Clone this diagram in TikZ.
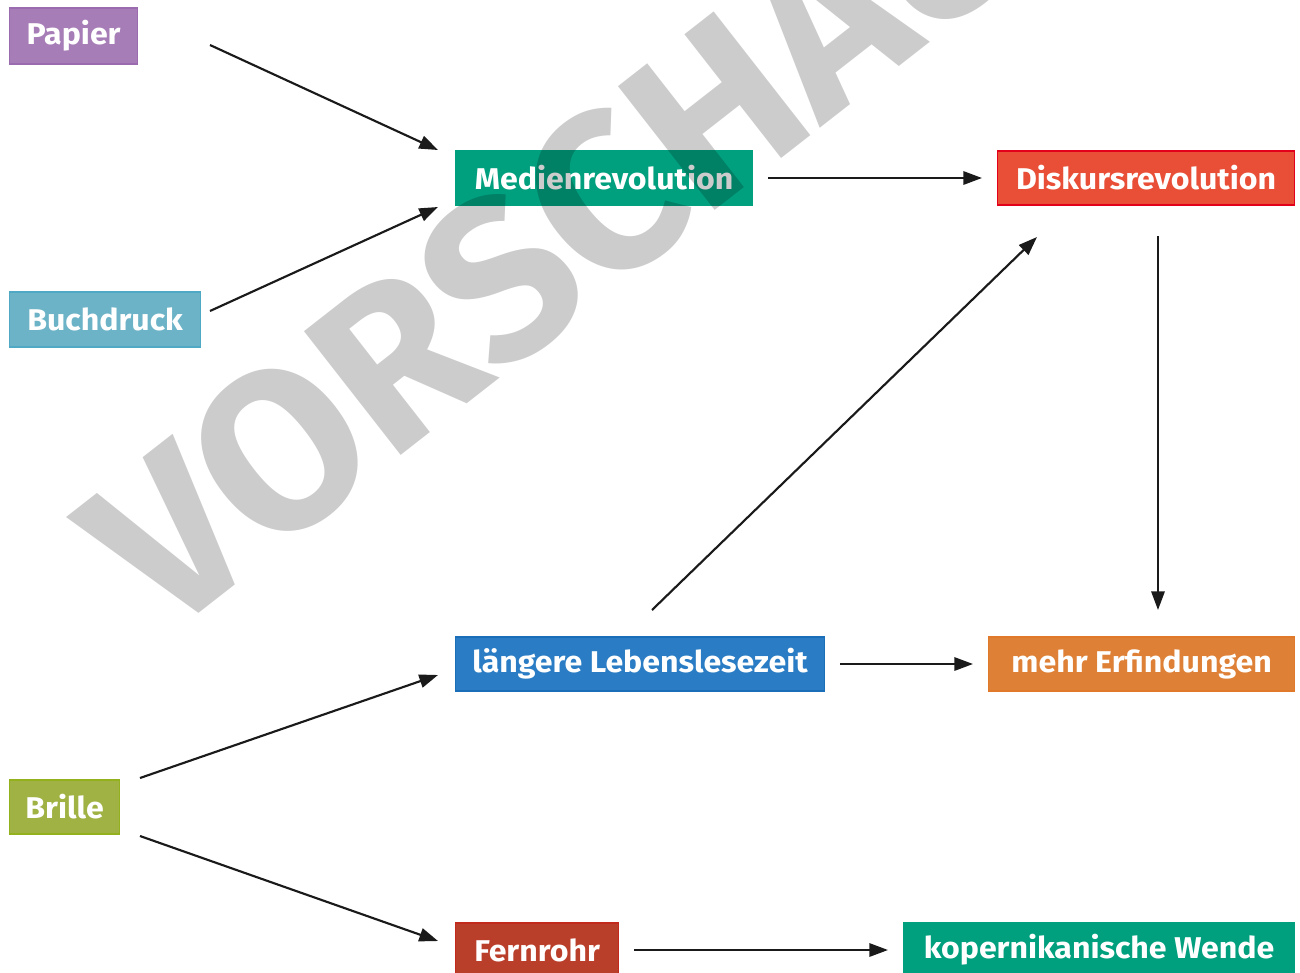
\documentclass[tikz,border=0pt]{standalone}
\usepackage{fontspec}
\setmainfont{Fira Sans}[BoldFont={Fira Sans Bold}]
\newfontfamily\boxfont{Fira Sans Bold}[FakeStretch=1.07]
\newfontfamily\wmfont{Fira Sans Bold}
\usetikzlibrary{arrows.meta}
\definecolor{cpap}{HTML}{A67DB6}\definecolor{cpapb}{HTML}{9B6BB0}
\definecolor{cbuch}{HTML}{6DB3C7}\definecolor{cbuchb}{HTML}{4FA9C4}
\definecolor{cmed}{HTML}{00A07F}\definecolor{cmedb}{HTML}{00A07F}
\definecolor{cdisk}{HTML}{E94E37}\definecolor{cdiskb}{HTML}{E2001A}
\definecolor{cleb}{HTML}{2A7DC4}\definecolor{clebb}{HTML}{1B6FB8}
\definecolor{cerf}{HTML}{DE8136}\definecolor{cerfb}{HTML}{E07A2A}
\definecolor{cbri}{HTML}{A0B244}\definecolor{cbrib}{HTML}{93B01D}
\definecolor{cfern}{HTML}{BA3F2B}\definecolor{cfernb}{HTML}{C32A1E}
\definecolor{carrow}{HTML}{1A1A1A}
\tikzset{
  box/.style={anchor=west, minimum height=40.5pt, inner sep=0pt, line width=0.9pt,
    text=white, font=\boxfont\fontsize{22.5}{25}\selectfont},
  arr/.style={-{Triangle[length=14pt,width=10pt]}, line width=1.6pt, draw=carrow},
}
\begin{document}
\begin{tikzpicture}[x=0.75pt,y=-0.75pt]
\useasboundingbox (0,0) rectangle (1300,972);
% nodes
\node[box, fill=cpap, draw=cpapb, minimum width=96pt, minimum height=42pt] (pap) at (9,36) {Papier};
\node[box, fill=cbuch, draw=cbuchb, minimum width=143.25pt, minimum height=41.25pt] (buch) at (9,319.5) {Buchdruck};
\node[box, fill=cmed, draw=cmedb, minimum width=222.75pt] (med) at (455,178) {Medienrevolution};
\node[box, fill=cdisk, draw=cdiskb, minimum width=222.75pt] (disk) at (997,178) {Diskursrevolution};
\node[box, fill=cleb, draw=clebb, minimum width=276.75pt] (leb) at (455,664) {längere Lebenslesezeit};
\node[box, fill=cerf, draw=cerfb, minimum width=229.5pt] (erf) at (988,664) {mehr Erfindungen};
\node[box, fill=cbri, draw=cbrib, minimum width=82.5pt] (bri) at (9,807) {Brille};
\node[box, fill=cfern, draw=cfernb, minimum width=122.25pt] (fern) at (455,950) {Fernrohr};
\node[box, fill=cmed, draw=cmedb, minimum width=293.25pt] (kop) at (903,950) {kopernikanische Wende};
% connector end points
\coordinate (papS) at (210,45);   \coordinate (medA) at (438,150);
\coordinate (buchS) at (210,311); \coordinate (medB) at (438,207);
\coordinate (medS) at (768,178);  \coordinate (diskA) at (982,178);
\coordinate (lebS) at (652,610);  \coordinate (diskB) at (1037,237);
\coordinate (diskS) at (1158,236);\coordinate (erfA) at (1158,610);
\coordinate (lebS2) at (840,664); \coordinate (erfB) at (973,664);
\coordinate (briS) at (140,778);  \coordinate (lebA) at (438,675);
\coordinate (briS2) at (140,836); \coordinate (fernA) at (438,941);
\coordinate (fernS) at (634,950); \coordinate (kopA) at (888,950);
\draw[arr] (papS) -- (medA);
\draw[arr] (buchS) -- (medB);
\draw[arr] (medS) -- (diskA);
\draw[arr] (lebS) -- (diskB);
\draw[arr] (diskS) -- (erfA);
\draw[arr] (lebS2) -- (erfB);
\draw[arr] (briS) -- (lebA);
\draw[arr] (briS2) -- (fernA);
\draw[arr] (fernS) -- (kopA);
% watermark
\node[anchor=base west, rotate=38, inner sep=0pt, text=black, text opacity=0.2,
  font=\wmfont\fontsize{170}{170}\selectfont] (wm) at (165,640) {VORSCHAU};
\end{tikzpicture}
\end{document}
